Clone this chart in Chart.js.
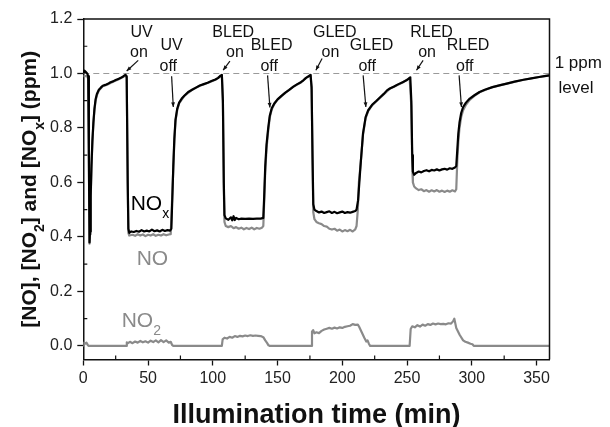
<!DOCTYPE html>
<html>
<head>
<meta charset="utf-8">
<script src="https://cdn.jsdelivr.net/npm/chart.js@4.4.1/dist/chart.umd.min.js"></script>
<title>NO / NO2 / NOx vs illumination time</title>
<style>
  body { margin: 0; background: #fff; }
  #wrap { width: 610px; height: 427px; }
</style>
</head>
<body>
<div id="wrap"><canvas id="chart" width="610" height="427"></canvas></div>
<script>
// axis ticks
const xTicks = [0, 50, 100, 150, 200, 250, 300, 350];
const yTicks = [0.0, 0.2, 0.4, 0.6, 0.8, 1.0, 1.2];
const xMinor = [25, 75, 125, 175, 225, 275, 325];
const yMinor = [0.1, 0.3, 0.5, 0.7, 0.9, 1.1];

// [time (min), ppm]
const noxPoints = [
  [0, 1.0], [1, 1.01], [2, 1.005], [3, 1.0], [3.8, 0.99], [4.3, 0.7], [4.8, 0.38], [5.2, 0.42],
  [5.7, 0.55], [6.3, 0.66], [7, 0.75], [7.8, 0.82], [8.6, 0.87], [9.5, 0.905], [10.5, 0.925],
  [12, 0.94], [13.5, 0.948], [15, 0.955], [17, 0.958], [19, 0.962], [21, 0.968], [23, 0.971],
  [25, 0.976], [27, 0.98], [29, 0.984], [31, 0.99], [32.5, 0.995],
  [33.5, 0.99], [34.3, 0.6], [34.8, 0.43], [35.5, 0.415], [37, 0.42], [39, 0.418], [41, 0.422],
  [43, 0.419], [45, 0.425], [47, 0.42], [49, 0.423], [51, 0.42], [53, 0.427], [55, 0.421],
  [57, 0.424], [59, 0.42], [61, 0.426], [63, 0.422], [65, 0.425], [67, 0.423], [68, 0.43],
  [68.8, 0.55], [69.5, 0.66], [70.3, 0.76], [71.2, 0.83], [72.5, 0.87], [74, 0.893], [76, 0.908],
  [78, 0.918], [81, 0.932], [84, 0.94], [87, 0.948], [90, 0.956], [93, 0.961], [96, 0.966],
  [99, 0.972], [102, 0.978], [104, 0.983], [106, 0.992], [107, 0.995],
  [107.8, 0.9], [108.5, 0.6], [109, 0.48], [110, 0.468], [112, 0.463], [114, 0.472], [115, 0.461],
  [116, 0.476], [117, 0.462], [118, 0.47], [120, 0.465], [122, 0.467], [125, 0.466], [128, 0.467],
  [131, 0.466], [134, 0.467], [137, 0.467], [139, 0.47],
  [139.7, 0.55], [140.5, 0.66], [141.5, 0.74], [142.8, 0.8], [144, 0.845], [145.5, 0.872],
  [147.5, 0.89], [150, 0.905], [153, 0.918], [156, 0.93], [159, 0.94], [162, 0.951], [165, 0.96],
  [168, 0.968], [170, 0.975], [172, 0.984], [174, 0.99], [175.5, 0.995],
  [176.3, 0.95], [177, 0.7], [177.6, 0.52], [178.5, 0.5], [180, 0.495], [182, 0.49], [184, 0.493],
  [186, 0.488], [188, 0.491], [190, 0.494], [192, 0.488], [194, 0.492], [196, 0.487], [198, 0.49],
  [200, 0.493], [202, 0.488], [204, 0.491], [206, 0.489], [208, 0.492], [210, 0.495], [211, 0.5],
  [212.2, 0.535], [214, 0.657], [216, 0.78], [218, 0.84], [220, 0.865], [223, 0.885], [226.4, 0.9],
  [229, 0.912], [232, 0.925], [234.5, 0.938], [236.7, 0.945], [240, 0.952], [243, 0.96],
  [247, 0.969], [250, 0.976], [252.5, 0.986],
  [253.3, 0.9], [254, 0.7], [254.5, 0.64], [255.5, 0.628], [257, 0.635], [259, 0.64], [261, 0.637],
  [263, 0.642], [265, 0.645], [267, 0.641], [269, 0.646], [271, 0.644], [273, 0.648], [275, 0.644],
  [277, 0.648], [279, 0.65], [281, 0.647], [283, 0.652], [285, 0.65], [287, 0.655], [288, 0.66],
  [288.8, 0.72], [289.6, 0.78], [290.5, 0.82], [291.8, 0.855], [293.3, 0.877], [295.5, 0.893],
  [298.4, 0.908], [302, 0.92], [306, 0.932], [310, 0.94], [316, 0.95], [322, 0.957], [327, 0.963],
  [333, 0.97], [340, 0.977], [346, 0.982], [352, 0.987], [356, 0.99], [360, 0.993]
];

const noPoints = [
  [0, 0.99], [3, 0.99], [3.8, 0.98], [4.3, 0.69], [4.8, 0.375], [5.2, 0.41], [5.7, 0.54],
  [6.3, 0.65], [7, 0.745], [7.8, 0.815], [8.6, 0.865], [9.5, 0.9], [10.5, 0.92], [12, 0.937],
  [15, 0.953], [19, 0.96], [23, 0.97], [27, 0.978], [31, 0.988], [32.5, 0.993],
  [33.5, 0.985], [34.3, 0.59], [34.8, 0.415], [35.5, 0.405], [38, 0.408], [40, 0.404], [42, 0.41],
  [44, 0.405], [46, 0.409], [48, 0.403], [50, 0.408], [52, 0.405], [54, 0.41], [56, 0.404],
  [58, 0.408], [60, 0.405], [62, 0.41], [64, 0.406], [66, 0.409], [67.5, 0.41],
  [68.5, 0.53], [69.5, 0.65], [70.3, 0.75], [71.2, 0.825], [72.5, 0.865], [74, 0.89], [78, 0.918],
  [84, 0.94], [90, 0.955], [96, 0.965], [102, 0.977], [106, 0.99], [107, 0.993],
  [107.8, 0.89], [108.5, 0.58], [109, 0.455], [110, 0.44], [112, 0.436], [114, 0.44], [116, 0.432],
  [118, 0.436], [120, 0.43], [122, 0.434], [124, 0.428], [126, 0.433], [128, 0.429], [130, 0.434],
  [132, 0.428], [134, 0.433], [136, 0.43], [138, 0.434], [139, 0.44],
  [139.7, 0.53], [140.5, 0.64], [141.5, 0.725], [142.8, 0.79], [144, 0.838], [145.5, 0.868],
  [147.5, 0.888], [150, 0.904], [156, 0.929], [162, 0.951], [168, 0.967], [172, 0.984], [175.5, 0.994],
  [176.3, 0.94], [177, 0.68], [177.6, 0.49], [178.5, 0.465], [180, 0.455], [182, 0.45], [184, 0.447],
  [186, 0.44], [188, 0.438], [190, 0.43], [192, 0.427], [194, 0.43], [196, 0.423], [198, 0.427],
  [200, 0.42], [202, 0.425], [204, 0.421], [206, 0.426], [208, 0.42], [210, 0.428], [211, 0.44],
  [212, 0.5], [212.8, 0.6], [214, 0.66], [216, 0.775], [218, 0.835], [220, 0.862], [223, 0.883],
  [226.4, 0.898], [236.7, 0.944], [247, 0.968], [252, 0.984],
  [253.3, 0.88], [254, 0.66], [254.5, 0.6], [255.5, 0.585], [257, 0.578], [259, 0.572], [261, 0.575],
  [263, 0.568], [265, 0.572], [267, 0.566], [269, 0.571], [271, 0.567], [273, 0.572], [275, 0.566],
  [277, 0.57], [279, 0.565], [281, 0.57], [283, 0.566], [285, 0.571], [287, 0.567], [288, 0.575],
  [288.8, 0.68], [289.6, 0.75], [290.5, 0.8], [291.8, 0.84], [293.3, 0.865], [295.5, 0.885],
  [298.4, 0.903], [302, 0.918], [306, 0.931], [316, 0.95], [327, 0.963], [340, 0.977],
  [352, 0.987], [360, 0.993]
];

const no2Points = [
  [0, 0.0], [0.5, 0.012], [1.5, 0.008], [2.5, 0.012], [3.2, 0.005], [4, 0.0],
  [33, 0.0], [33.6, 0.013], [34.5, 0.01], [36, 0.015], [38, 0.01], [40, 0.016], [42, 0.012],
  [44, 0.018], [46, 0.013], [48, 0.017], [50, 0.012], [52, 0.019], [54, 0.014], [56, 0.02],
  [58, 0.013], [60, 0.021], [62, 0.014], [64, 0.02], [66, 0.012], [67.5, 0.015], [68.5, 0.004],
  [69.5, 0.0],
  [107, 0.0], [107.6, 0.024], [109, 0.03], [111, 0.027], [113, 0.033], [115, 0.03], [117, 0.036],
  [119, 0.033], [121, 0.037], [123, 0.035], [125, 0.038], [127, 0.036], [129, 0.039], [131, 0.037],
  [133, 0.038], [135, 0.037], [137, 0.036], [139, 0.032], [140.5, 0.02], [142, 0.01], [143, 0.002],
  [144, 0.0],
  [176, 0.0], [176.6, 0.052], [177.5, 0.058], [178.5, 0.046], [180, 0.05], [182, 0.047],
  [184, 0.055], [186, 0.06], [188, 0.063], [190, 0.066], [192, 0.063], [194, 0.067], [196, 0.064],
  [198, 0.068], [200, 0.066], [202, 0.07], [204, 0.072], [206, 0.074], [208, 0.08], [210, 0.077],
  [212, 0.078], [213, 0.07], [215, 0.05], [217, 0.03], [218.5, 0.016], [219.5, 0.02],
  [220.5, 0.008], [221.5, 0.0],
  [252, 0.0], [252.8, 0.062], [254, 0.072], [256, 0.068], [258, 0.076], [260, 0.071], [262, 0.078],
  [264, 0.074], [266, 0.08], [268, 0.077], [270, 0.082], [272, 0.079], [274, 0.082], [276, 0.08],
  [278, 0.081], [280, 0.079], [282, 0.083], [284, 0.082], [285.5, 0.09], [286.5, 0.1], [288, 0.066],
  [290.7, 0.04], [293.3, 0.02], [295, 0.015], [297, 0.012], [299, 0.008], [300.5, 0.006],
  [301.5, 0.0], [360, 0.0]
];

const refLevel = [[0, 1.0], [360, 1.0]];

// lamp switching labels
const onNames = ['UV', 'BLED', 'GLED', 'RLED'];
const onNameT = [45, 115.8, 194.2, 268.9];
const onWordT = [43, 117.1, 190.9, 265.5];
const onLines = [[42.4, 1.048, 33.5, 1.009], [113.2, 1.045, 108, 1.012], [184.4, 1.055, 179.6, 1.012], [262.4, 1.048, 257.3, 1.012]];
const offNameT = [68.2, 145.4, 222.6, 297.1];
const offWordT = [65.6, 143.5, 219.2, 294.6];
const offArrows = [[68.2, 0.99, 69.5, 0.877], [142.3, 0.993, 144.1, 0.875], [216.1, 0.993, 218.2, 0.877], [290.2, 0.993, 292, 0.877]];

const FONT = "'Liberation Sans', Arial, sans-serif";
const GRAY = '#8a8a8a';

const toXY = pts => pts.map(p => ({ x: p[0], y: p[1] }));

function arrowHead(ctx, x1, y1, x2, y2, size) {
  const a = Math.atan2(y2 - y1, x2 - x1);
  ctx.beginPath();
  ctx.moveTo(x2, y2);
  ctx.lineTo(x2 - size * Math.cos(a - 0.4), y2 - size * Math.sin(a - 0.4));
  ctx.lineTo(x2 - size * Math.cos(a + 0.4), y2 - size * Math.sin(a + 0.4));
  ctx.closePath();
  ctx.fill();
}

// text with subscripts: parts = [[text, isSub], ...]
function richText(ctx, parts, x, y, size, bold, align) {
  const w = parts.map(p => {
    ctx.font = (bold ? 'bold ' : '') + (p[1] ? Math.round(size * 0.68) : size) + 'px ' + FONT;
    return ctx.measureText(p[0]).width;
  });
  const total = w.reduce((a, b) => a + b, 0);
  let cx = align === 'center' ? x - total / 2 : x;
  ctx.textAlign = 'left';
  ctx.textBaseline = 'alphabetic';
  parts.forEach((p, i) => {
    ctx.font = (bold ? 'bold ' : '') + (p[1] ? Math.round(size * 0.68) : size) + 'px ' + FONT;
    ctx.fillText(p[0], cx, p[1] ? y + size * 0.38 : y);
    cx += w[i];
  });
}

const overlay = {
  id: 'overlay',
  afterDraw(chart) {
    const ctx = chart.ctx;
    const xs = chart.scales.x, ys = chart.scales.y;
    const a = chart.chartArea;
    const X = t => xs.getPixelForValue(t), Y = v => ys.getPixelForValue(v);
    ctx.save();

    // box
    ctx.strokeStyle = '#111';
    ctx.lineWidth = 1.5;
    ctx.beginPath();
    ctx.moveTo(a.left, a.top); ctx.lineTo(a.right, a.top); ctx.lineTo(a.right, a.bottom);
    ctx.stroke();

    // minor ticks, inside
    ctx.lineWidth = 1.2;
    ctx.beginPath();
    xMinor.forEach(t => { ctx.moveTo(X(t), a.bottom); ctx.lineTo(X(t), a.bottom - 4); });
    yMinor.forEach(v => { ctx.moveTo(a.left, Y(v)); ctx.lineTo(a.left + 4, Y(v)); });
    ctx.stroke();

    // lamp labels
    ctx.fillStyle = '#111';
    ctx.font = '16px ' + FONT;
    ctx.textAlign = 'center';
    ctx.textBaseline = 'alphabetic';
    onNames.forEach((n, i) => {
      ctx.fillText(n, X(onNameT[i]), Y(1.133));
      ctx.fillText('on', X(onWordT[i]), Y(1.059));
      ctx.fillText(n, X(offNameT[i]), Y(1.085));
      ctx.fillText('off', X(offWordT[i]), Y(1.008));
    });
    ctx.lineWidth = 1.2;
    onLines.concat(offArrows).forEach(l => {
      const x1 = X(l[0]), y1 = Y(l[1]), x2 = X(l[2]), y2 = Y(l[3]);
      ctx.beginPath(); ctx.moveTo(x1, y1); ctx.lineTo(x2, y2); ctx.stroke();
      arrowHead(ctx, x1, y1, x2, y2, 5);
    });

    ctx.textAlign = 'left';
    ctx.font = '17px ' + FONT;
    ctx.fillText('1 ppm', X(364), Y(1.019));
    ctx.fillText('level', X(367), Y(0.927));

    // curve names
    ctx.fillStyle = '#000';
    richText(ctx, [['NO', 0], ['x', 1]], X(36.6), Y(0.498), 21, false, 'left');
    ctx.fillStyle = GRAY;
    richText(ctx, [['NO', 0]], X(41.2), Y(0.296), 21, false, 'left');
    richText(ctx, [['NO', 0], ['2', 1]], X(29.6), Y(0.07), 21, false, 'left');

    // axis titles
    ctx.fillStyle = '#111';
    ctx.font = 'bold 27px ' + FONT;
    ctx.textAlign = 'center';
    ctx.fillText('Illumination time (min)', (a.left + a.right) / 2, a.bottom + 63);

    ctx.translate(36, (a.top + a.bottom) / 2);
    ctx.rotate(-Math.PI / 2);
    richText(ctx, [['[NO], [NO', 0], ['2', 1], ['] and [NO', 0], ['x', 1], ['] (ppm)', 0]], 0, 0, 21, true, 'center');
    ctx.restore();
  }
};

new Chart(document.getElementById('chart'), {
  type: 'line',
  data: {
    datasets: [
      { label: 'NOx', data: toXY(noxPoints), borderColor: '#000', borderWidth: 2.2, order: 0 },
      { label: 'NO', data: toXY(noPoints), borderColor: GRAY, borderWidth: 2.2, order: 1 },
      { label: 'NO2', data: toXY(no2Points), borderColor: GRAY, borderWidth: 2.2, order: 2 },
      { label: '1 ppm', data: toXY(refLevel), borderColor: '#9a9a9a', borderWidth: 1.2, borderDash: [6, 4], order: 3 }
    ]
  },
  options: {
    responsive: false,
    animation: false,
    layout: { padding: { left: 0, top: 19, right: 60.5, bottom: 0 } },
    elements: { point: { radius: 0 }, line: { tension: 0, borderJoinStyle: 'round' } },
    plugins: { legend: { display: false }, tooltip: { enabled: false } },
    scales: {
      x: {
        type: 'linear', min: 0, max: 360,
        afterBuildTicks: s => { s.ticks = xTicks.map(v => ({ value: v })); },
        afterFit: s => { s.height = 67.5; },
        grid: { drawOnChartArea: false, tickLength: 6, tickColor: '#111', tickWidth: 1.3 },
        border: { color: '#111', width: 1.5 },
        ticks: { color: '#222', font: { family: FONT, size: 16 }, padding: 3, maxRotation: 0, autoSkip: false }
      },
      y: {
        type: 'linear', min: -0.05, max: 1.2,
        afterBuildTicks: s => { s.ticks = yTicks.map(v => ({ value: v })); },
        afterFit: s => { s.width = 83.3; },
        grid: { drawOnChartArea: false, tickLength: 6, tickColor: '#111', tickWidth: 1.3 },
        border: { color: '#111', width: 1.5 },
        ticks: { color: '#222', font: { family: FONT, size: 16 }, padding: 5, callback: v => v.toFixed(1) }
      }
    }
  },
  plugins: [overlay]
});
</script>
</body>
</html>
